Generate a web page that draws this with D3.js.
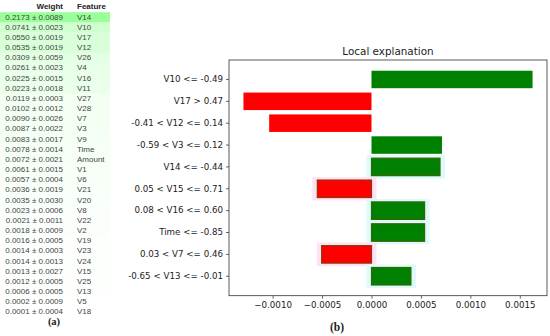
<!DOCTYPE html>
<html>
<head>
<meta charset="utf-8">
<script src="https://cdn.jsdelivr.net/npm/d3@7/dist/d3.min.js"></script>
<style>
  html, body { margin: 0; padding: 0; background: #fff; }
  svg { display: block; }
  .tbl text { font-family: "Liberation Sans", Arial, sans-serif; font-size: 8px; fill: #444; }
  .tbl .head { font-weight: bold; fill: #222; }
  .chart text { font-family: "DejaVu Sans", sans-serif; fill: #222; }
  .caption { font-family: "Liberation Serif", "Times New Roman", serif; font-weight: bold; fill: #222; }
</style>
</head>
<body>
<svg id="fig" width="550" height="336"></svg>
<script>
// (a) permutation importance table
const tableFeatures = ["V14", "V10", "V17", "V12", "V26", "V4", "V16", "V11", "V27", "V28",
  "V7", "V3", "V9", "Time", "Amount", "V1", "V6", "V21", "V20", "V8",
  "V22", "V2", "V19", "V23", "V24", "V15", "V25", "V13", "V5", "V18"];
const tableWeights = [0.2173, 0.0741, 0.0550, 0.0535, 0.0309, 0.0261, 0.0225, 0.0223, 0.0119, 0.0102,
  0.0090, 0.0087, 0.0083, 0.0078, 0.0072, 0.0061, 0.0057, 0.0036, 0.0035, 0.0023,
  0.0021, 0.0018, 0.0016, 0.0014, 0.0014, 0.0013, 0.0012, 0.0006, 0.0002, 0.0001];
const tableStd = [0.0089, 0.0023, 0.0019, 0.0019, 0.0059, 0.0023, 0.0015, 0.0018, 0.0003, 0.0012,
  0.0026, 0.0022, 0.0017, 0.0014, 0.0021, 0.0015, 0.0004, 0.0019, 0.0030, 0.0006,
  0.0011, 0.0009, 0.0005, 0.0003, 0.0013, 0.0027, 0.0005, 0.0005, 0.0009, 0.0004];

// (b) LIME local explanation
const limeRules = ["V10 <= -0.49", "V17 > 0.47", "-0.41 < V12 <= 0.14", "-0.59 < V3 <= 0.12",
  "V14 <= -0.44", "0.05 < V15 <= 0.71", "0.08 < V16 <= 0.60", "Time <= -0.85",
  "0.03 < V7 <= 0.46", "-0.65 < V13 <= -0.01"];
const limeValues = [0.001629, -0.001295, -0.001035, 0.000713, 0.000693, -0.000548,
  0.000537, 0.000537, -0.000504, 0.000399];
const glowRules = ["V14 <= -0.44", "0.05 < V15 <= 0.71", "0.08 < V16 <= 0.60", "Time <= -0.85",
  "0.03 < V7 <= 0.46", "-0.65 < V13 <= -0.01"];
const xTicks = [-0.001, -0.0005, 0, 0.0005, 0.001, 0.0015];

const svg = d3.select("#fig");

// ---- table ----
const gTbl = svg.append("g").attr("class", "tbl");
const rowY = d3.scaleLinear().domain([0, 1]).range([19.5, 29.67]);
const maxW = d3.max(tableWeights);
const lightness = (w) => 1 - 0.2 * Math.pow(Math.abs(w) / maxW, 0.7);

gTbl.selectAll("rect.row")
  .data(tableWeights)
  .join("rect")
  .attr("class", "row")
  .attr("x", 0)
  .attr("width", 110)
  .attr("y", (d, i) => rowY(i) - 7.3)
  .attr("height", 10.3)
  .attr("fill", (d) => d3.hsl(120, 1, lightness(d)).formatHex());

gTbl.append("text").attr("class", "head").attr("x", 63).attr("y", 8.5)
  .attr("text-anchor", "end").text("Weight");
gTbl.append("text").attr("class", "head").attr("x", 77).attr("y", 8.5).text("Feature");

const fmt = d3.format(".4f");
gTbl.selectAll("text.w")
  .data(tableWeights)
  .join("text")
  .attr("class", "w")
  .attr("x", 63)
  .attr("y", (d, i) => rowY(i))
  .attr("text-anchor", "end")
  .text((d, i) => `${fmt(d)} ± ${fmt(tableStd[i])}`);

gTbl.selectAll("text.f")
  .data(tableFeatures)
  .join("text")
  .attr("class", "f")
  .attr("x", 77)
  .attr("y", (d, i) => rowY(i))
  .text((d) => d);

svg.append("text").attr("class", "caption").attr("x", 54).attr("y", 324.5)
  .attr("text-anchor", "middle").attr("font-size", 10.5).text("(a)");

// ---- chart ----
const plot = { left: 229, right: 547, top: 60, bottom: 295.7 };
const gChart = svg.append("g").attr("class", "chart");

const ext = d3.extent([0, ...limeValues]);
const pad = (ext[1] - ext[0]) * 0.05;
const x = d3.scaleLinear().domain([ext[0] - pad, ext[1] + pad]).range([plot.left, plot.right]);
const y = d3.scaleBand().domain(limeRules).range([plot.top, plot.bottom])
  .paddingInner(0.2).paddingOuter(0.49);

const bars = limeRules.map((rule, i) => ({ rule, value: limeValues[i], glow: glowRules.includes(rule) }));

gChart.selectAll("rect.glow")
  .data(bars.filter((d) => d.glow))
  .join("rect")
  .attr("class", "glow")
  .attr("x", (d) => Math.min(x(0), x(d.value)) - 5)
  .attr("width", (d) => Math.abs(x(d.value) - x(0)) + 10)
  .attr("y", (d) => y(d.rule) - 3)
  .attr("height", y.bandwidth() + 6)
  .attr("fill", (d) => (d.value < 0 ? "#ffe2f6" : "#dcfcfc"));

gChart.selectAll("rect.bar")
  .data(bars)
  .join("rect")
  .attr("class", "bar")
  .attr("x", (d) => Math.min(x(0), x(d.value)))
  .attr("width", (d) => Math.abs(x(d.value) - x(0)))
  .attr("y", (d) => y(d.rule))
  .attr("height", y.bandwidth())
  .attr("fill", (d) => (d.value < 0 ? "red" : "green"))
  .attr("stroke", (d) => (d.glow ? (d.value < 0 ? "#8a3a08" : "#3a6200") : "none"))
  .attr("stroke-width", 1.2);

const yAxis = d3.axisLeft(y).tickSize(3).tickPadding(3);
gChart.append("g")
  .attr("transform", `translate(${plot.left},0)`)
  .call(yAxis)
  .call((g) => g.select(".domain").remove())
  .call((g) => g.selectAll("text").attr("font-size", 8.7).attr("font-family", null).attr("fill", "#222"))
  .call((g) => g.selectAll("line").attr("stroke", "#222").attr("stroke-width", 0.7));

const xAxis = d3.axisBottom(x).tickValues(xTicks).tickSize(3).tickPadding(3)
  .tickFormat((d) => fmt(d).replace("-", "\u2212"));
gChart.append("g")
  .attr("transform", `translate(0,${plot.bottom})`)
  .call(xAxis)
  .call((g) => g.select(".domain").remove())
  .call((g) => g.selectAll("text").attr("font-size", 8.7).attr("font-family", null).attr("fill", "#222"))
  .call((g) => g.selectAll("line").attr("stroke", "#222").attr("stroke-width", 0.7));

gChart.append("rect")
  .attr("x", plot.left).attr("y", plot.top)
  .attr("width", plot.right - plot.left).attr("height", plot.bottom - plot.top)
  .attr("fill", "none").attr("stroke", "#333").attr("stroke-width", 0.8);

gChart.append("text")
  .attr("x", (plot.left + plot.right) / 2).attr("y", 54.5)
  .attr("text-anchor", "middle").attr("font-size", 10.4)
  .text("Local explanation");

svg.append("text").attr("class", "caption").attr("x", 337).attr("y", 331)
  .attr("text-anchor", "middle").attr("font-size", 11.5).text("(b)");
</script>
</body>
</html>
